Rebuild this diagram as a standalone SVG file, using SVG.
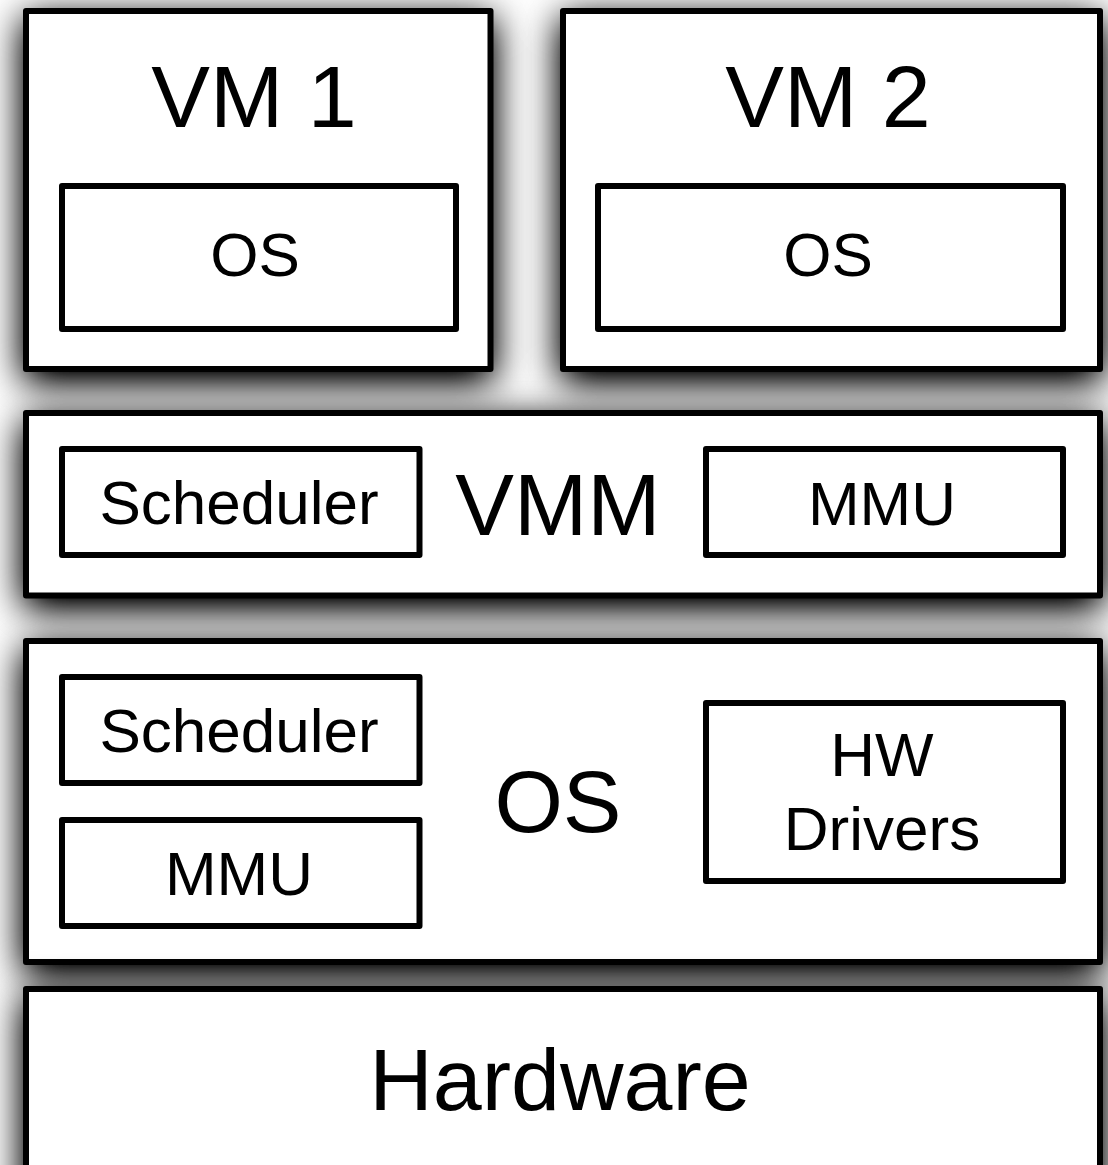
<svg xmlns="http://www.w3.org/2000/svg" width="1108" height="1165" viewBox="0 0 1108 1165">
  <defs>
    <!-- soft drop shadow for the outer layer boxes -->
    <filter id="drop" x="-15%" y="-60%" width="130%" height="220%">
      <feGaussianBlur in="SourceAlpha" stdDeviation="19"/>
      <feOffset dy="10"/>
      <feComponentTransfer result="blur">
        <feFuncA type="linear" slope="1.25"/>
      </feComponentTransfer>
      <feFlood flood-color="#000" flood-opacity="1"/>
      <feComposite in2="blur" operator="in" result="shadow"/>
      <feMerge>
        <feMergeNode in="shadow"/>
        <feMergeNode in="SourceGraphic"/>
      </feMerge>
    </filter>
  </defs>
  <style>
    .layer { fill: #fff; stroke: #000; stroke-width: 6; stroke-linejoin: round; }
    .box { fill: #fff; stroke: #000; stroke-width: 6; stroke-linejoin: round; }
    text { font-family: "Liberation Sans", Arial, Helvetica, sans-serif; fill: #000; text-anchor: middle; }
    .big { font-size: 88px; }
    .small { font-size: 62px; }
  </style>
  <rect width="1108" height="1165" fill="#fff"/>

  <!-- Virtual machine 1 -->
  <g id="vm1">
    <rect class="layer" filter="url(#drop)" x="26" y="11" width="464.5" height="358"/>
    <text class="big" x="254" y="127">VM 1</text>
    <g id="vm1-os">
      <rect class="box" x="62" y="186" width="394" height="143"/>
      <text class="small" x="255" y="276">OS</text>
    </g>
  </g>

  <!-- Virtual machine 2 -->
  <g id="vm2">
    <rect class="layer" filter="url(#drop)" x="563" y="11" width="537" height="358"/>
    <text class="big" x="828" y="127">VM 2</text>
    <g id="vm2-os">
      <rect class="box" x="598" y="186" width="465" height="143"/>
      <text class="small" x="828" y="276">OS</text>
    </g>
  </g>

  <!-- Virtual machine monitor -->
  <g id="vmm">
    <rect class="layer" filter="url(#drop)" x="26" y="413" width="1074" height="182.5"/>
    <text class="big" x="558" y="535">VMM</text>
    <g id="vmm-scheduler">
      <rect class="box" x="62" y="449" width="357.5" height="106"/>
      <text class="small" x="239" y="524">Scheduler</text>
    </g>
    <g id="vmm-mmu">
      <rect class="box" x="706" y="449" width="357" height="106"/>
      <text class="small" x="882" y="525">MMU</text>
    </g>
  </g>

  <!-- Host operating system -->
  <g id="host-os">
    <rect class="layer" filter="url(#drop)" x="26" y="641" width="1074" height="321"/>
    <text class="big" x="558" y="832">OS</text>
    <g id="os-scheduler">
      <rect class="box" x="62" y="677" width="357.5" height="106"/>
      <text class="small" x="239" y="752">Scheduler</text>
    </g>
    <g id="os-mmu">
      <rect class="box" x="62" y="820" width="357.5" height="106"/>
      <text class="small" x="239" y="895">MMU</text>
    </g>
    <g id="os-drivers">
      <rect class="box" x="706" y="703" width="357" height="178"/>
      <text class="small" x="882" y="776">HW</text>
      <text class="small" x="882" y="850">Drivers</text>
    </g>
  </g>

  <!-- Physical hardware -->
  <g id="hardware">
    <rect class="layer" filter="url(#drop)" x="26" y="989" width="1074" height="220"/>
    <text class="big" x="560" y="1110">Hardware</text>
  </g>

  <!-- layers are stacked without connectors -->
  <g id="connectors"/>
</svg>
